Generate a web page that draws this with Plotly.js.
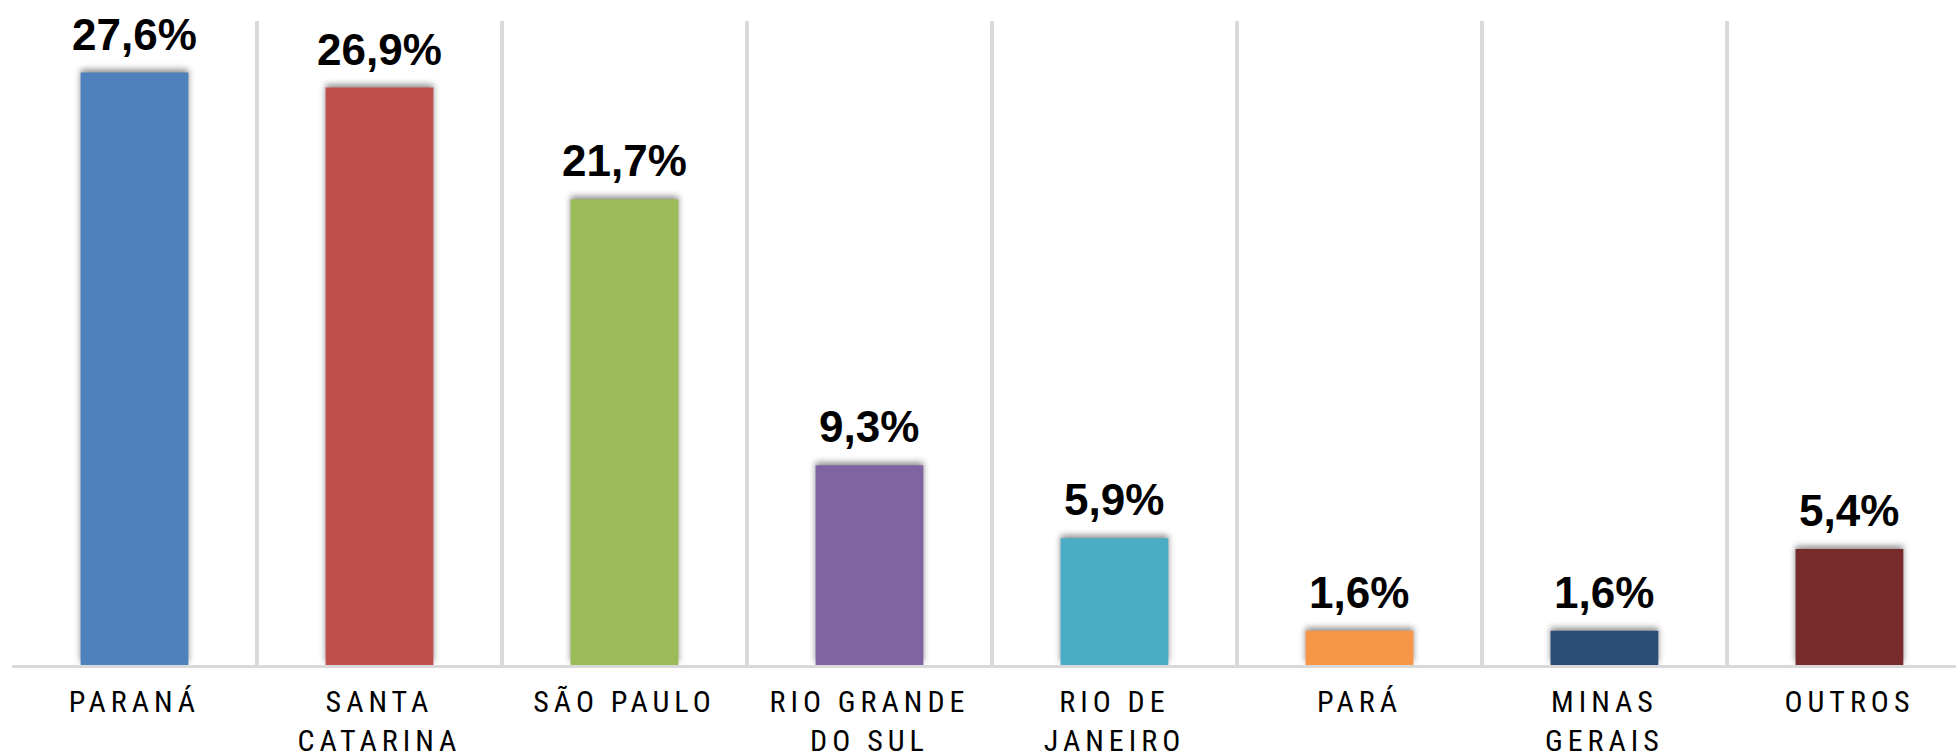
<!DOCTYPE html>
<html>
<head>
<meta charset="utf-8">
<script src="https://cdn.plot.ly/plotly-3.0.1.min.js"></script>
<style>
html, body { margin: 0; padding: 0; background: #fff; }
#chart { width: 1956px; height: 756px; }
.xtick text { letter-spacing: 5px; font-stretch: 85%; }
.bars .point path { filter: drop-shadow(0px -3px 3px rgba(0,0,0,0.45)); }
</style>
</head>
<body>
<div id="chart"></div>
<script>
const categories = ["PARANÁ", "SANTA<br>CATARINA", "SÃO PAULO", "RIO GRANDE<br>DO SUL", "RIO DE<br>JANEIRO", "PARÁ", "MINAS<br>GERAIS", "OUTROS"];
const values = [27.6, 26.9, 21.7, 9.3, 5.9, 1.6, 1.6, 5.4];
const colors = ["#4F81BD", "#C0504D", "#9BBB59", "#8064A2", "#4BACC6", "#F79646", "#2C4D75", "#772B2B"];
const valueLabels = values.map(v => v.toFixed(1).replace('.', ',') + '%');

const trace = {
  type: 'bar',
  x: categories,
  y: values,
  width: 0.44,
  marker: { color: colors, line: { width: 0 } },
  hoverinfo: 'none'
};

const annotations = categories.map((c, i) => ({
  x: c, y: values[i], xref: 'x', yref: 'y',
  text: valueLabels[i], showarrow: false,
  yanchor: 'bottom', yshift: 12,
  font: { family: 'Liberation Sans, Arial, sans-serif', size: 44, color: '#000', weight: 'bold' }
}));

const layout = {
  width: 1956, height: 756,
  margin: { l: 12, r: 0, t: 21, b: 91, pad: 0 },
  paper_bgcolor: '#fff', plot_bgcolor: '#fff',
  showlegend: false,
  xaxis: {
    type: 'category',
    range: [-0.5, 7.435],
    tickson: 'boundaries',
    showgrid: true, gridcolor: '#d9d9d9', gridwidth: 4,
    showline: true, linecolor: '#d9d9d9', linewidth: 3,
    ticks: '', ticklabelstandoff: 8,
    tickfont: { family: 'Roboto, sans-serif', size: 30, color: '#000', weight: 'normal' },
    fixedrange: true
  },
  yaxis: {
    range: [0, 30],
    showgrid: false, zeroline: false, showticklabels: false, showline: false,
    fixedrange: true
  },
  annotations: annotations
};

Plotly.newPlot('chart', [trace], layout, { displayModeBar: false, staticPlot: true });
</script>
</body>
</html>
